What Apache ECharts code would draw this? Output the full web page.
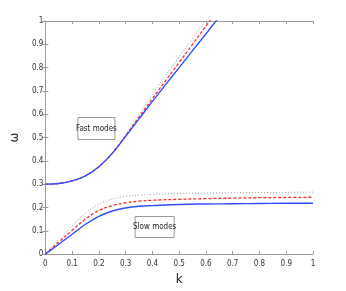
<!DOCTYPE html>
<html><head><meta charset="utf-8">
<script src="https://cdn.jsdelivr.net/npm/echarts@6/dist/echarts.min.js"></script>
<style>html,body{margin:0;padding:0;background:#fff}#c{width:346px;height:291px}</style>
</head><body><div id="c"></div>
<script>
const fastK = [0,0.05,0.1,0.15,0.2,0.25,0.3,0.35,0.4,0.45,0.5,0.55,0.6,0.65];
const fastBlue = [0.300,0.303,0.314,0.336,0.375,0.432,0.505,0.58,0.655,0.728,0.80,0.873,0.945,1.018];
const fastRed  = [0.300,0.303,0.314,0.336,0.375,0.433,0.508,0.588,0.667,0.745,0.822,0.90,0.978,1.055];
const fastGray = [0.300,0.303,0.314,0.336,0.376,0.435,0.513,0.597,0.685,0.768,0.846,0.924,1.002,1.08];
const slowK = [0,0.05,0.1,0.15,0.2,0.25,0.3,0.35,0.4,0.5,0.6,0.7,0.8,0.9,1.0];
const slowBlue = [0,0.042,0.085,0.128,0.162,0.185,0.198,0.205,0.208,0.213,0.215,0.216,0.217,0.218,0.218];
const slowRed  = [0,0.051,0.102,0.15,0.187,0.208,0.22,0.227,0.231,0.235,0.238,0.24,0.242,0.243,0.244];
const slowGray = [0,0.061,0.121,0.175,0.214,0.236,0.247,0.253,0.256,0.26,0.262,0.263,0.264,0.265,0.266];
const xTicks = ['0','0.1','0.2','0.3','0.4','0.5','0.6','0.7','0.8','0.9','1'];
const yTicks = ['0','0.1','0.2','0.3','0.4','0.5','0.6','0.7','0.8','0.9','1'];
const fastLabel = 'Fast modes';
const slowLabel = 'Slow modes';

const FONT = "'Liberation Sans Narrow','DejaVu Sans Condensed',sans-serif";
const pairs = (ks, vs) => ks.map((k, i) => [k, vs[i]]);
const BLUE = '#2f4dff', RED = '#ff2a2a', GRAY = '#9a9a9a', AX = '#9a9a9a';
function ser(data, color, type, width) {
  return {type:'line', data, showSymbol:false, symbol:'none', clip:true, smooth:0.4,
    lineStyle:{color, type, width}, xAxisIndex:0, yAxisIndex:0, animation:false};
}
const chart = echarts.init(document.getElementById('c'), null, {renderer:'canvas'});
const common = {min:0, max:1, interval:0.1, splitLine:{show:false}};
chart.setOption({
  animation:false,
  grid:{left:45, right:33, top:21, bottom:34},
  xAxis:[
    Object.assign({type:'value', position:'bottom', name:'k', nameLocation:'middle', nameGap:15,
      nameTextStyle:{fontFamily:FONT, fontSize:13, color:'#222'},
      axisLine:{show:true, lineStyle:{color:AX}}, axisTick:{inside:true, length:3, lineStyle:{color:AX}},
      axisLabel:{fontFamily:FONT, fontSize:8, color:'#333', margin:6,
        formatter:(v)=>xTicks[Math.round(v*10)]}}, common),
    Object.assign({type:'value', position:'top',
      axisLine:{show:true, onZero:false, lineStyle:{color:AX}}, axisTick:{inside:true, length:3, lineStyle:{color:AX}},
      axisLabel:{show:false}}, common)
  ],
  yAxis:[
    Object.assign({type:'value', position:'left', name:'ω', nameLocation:'middle', nameGap:14, nameRotate:90,
      nameTextStyle:{fontFamily:FONT, fontSize:13, color:'#222'},
      axisLine:{show:true, lineStyle:{color:AX}}, axisTick:{inside:true, length:3, lineStyle:{color:AX}},
      axisLabel:{fontFamily:FONT, fontSize:8, color:'#333', margin:2,
        formatter:(v)=>yTicks[Math.round(v*10)]}}, common),
    Object.assign({type:'value', position:'right',
      axisLine:{show:false}, axisTick:{show:true, inside:true, length:3, lineStyle:{color:AX}},
      axisLabel:{show:false}}, common)
  ],
  series:[
    ser(pairs(fastK, fastGray), GRAY, [1,2], 1),
    ser(pairs(fastK, fastRed), RED, [3,2], 1.3),
    ser(pairs(fastK, fastBlue), BLUE, 'solid', 1.4),
    ser(pairs(slowK, slowGray), GRAY, [1,2], 1),
    ser(pairs(slowK, slowRed), RED, [3,2], 1.3),
    ser(pairs(slowK, slowBlue), BLUE, 'solid', 1.4)
  ],
  graphic:[
    {type:'group', left:76, top:117, children:[
      {type:'rect', shape:{x:0, y:0, width:37, height:22}, style:{fill:'#fff', stroke:'#999', lineWidth:1}},
      {type:'text', style:{x:18.5, y:11, text:fastLabel, fontFamily:FONT, fontSize:8, fill:'#222', align:'center', verticalAlign:'middle'}}
    ]},
    {type:'group', left:133, top:216, children:[
      {type:'rect', shape:{x:0, y:0, width:39, height:21}, style:{fill:'#fff', stroke:'#999', lineWidth:1}},
      {type:'text', style:{x:19.5, y:10.5, text:slowLabel, fontFamily:FONT, fontSize:8, fill:'#222', align:'center', verticalAlign:'middle'}}
    ]}
  ]
});
</script></body></html>
